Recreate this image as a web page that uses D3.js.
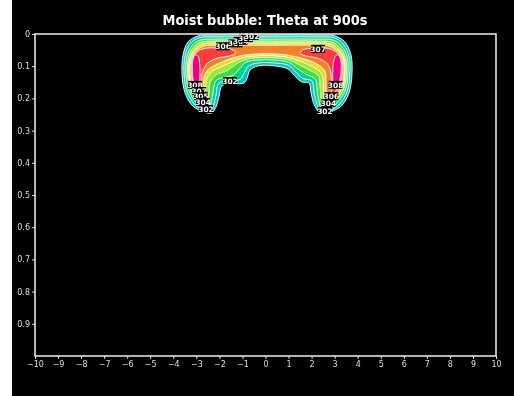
<!DOCTYPE html>
<html><head><meta charset="utf-8">
<script src="https://cdn.jsdelivr.net/npm/d3@7"></script>
<style>html,body{margin:0;padding:0;background:#fff;}svg{display:block;will-change:transform;}</style>
</head><body>
<script>
// ---- data ----
const title = "Moist bubble: Theta at 900s";
const xTicks = [-10,-9,-8,-7,-6,-5,-4,-3,-2,-1,0,1,2,3,4,5,6,7,8,9,10];
const yTicks = [0,0.1,0.2,0.3,0.4,0.5,0.6,0.7,0.8,0.9];
const levels = [301,302,303,304,305,306,307,308];
const colors = ["#00c8c8","#00d28c","#3cdc3c","#a0e632","#e6dc32","#f08228","#fa3c3c","#f00082"];
// contour regions (theta >= level), [x, z]
const c301 = [[[-2.54,0.245],[-3.15,0.224],[-3.49,0.183],[-3.62,0.127],[-3.58,0.065],[-3.36,0.025],[-2.93,0.006],[-2.19,0.003],[0,0.003],[2.28,0.003],[3.02,0.006],[3.45,0.025],[3.71,0.065],[3.75,0.127],[3.62,0.183],[3.28,0.224],[2.67,0.245],
 [2.36,0.245],[2.10,0.217],[1.97,0.180],[1.89,0.152],[1.58,0.149],[1.32,0.134],[0.98,0.109],[0.41,0.099],[-0.33,0.099],[-0.67,0.112],[-0.80,0.137],[-0.93,0.152],[-1.45,0.155],[-1.89,0.161],[-2.02,0.196],[-2.15,0.227],[-2.32,0.245]]];
const c302 = [[[-2.50,0.242],[-3.05,0.220],[-3.40,0.180],[-3.53,0.127],[-3.49,0.068],[-3.28,0.031],[-2.88,0.012],[-2.19,0.009],[0,0.009],[2.28,0.009],[2.98,0.012],[3.37,0.031],[3.62,0.068],[3.66,0.127],[3.53,0.180],[3.18,0.220],[2.62,0.242],
 [2.40,0.242],[2.22,0.215],[2.10,0.178],[2.02,0.146],[1.62,0.138],[1.36,0.122],[1.02,0.098],[0.41,0.090],[-0.33,0.090],[-0.75,0.100],[-0.95,0.125],[-1.10,0.141],[-1.55,0.145],[-2.02,0.152],[-2.15,0.190],[-2.25,0.222],[-2.36,0.242]]];
const c303 = [[[-2.52,0.236],[-3.00,0.214],[-3.32,0.176],[-3.45,0.127],[-3.41,0.071],[-3.20,0.037],[-2.83,0.019],[-2.19,0.016],[0,0.016],[2.28,0.016],[2.93,0.019],[3.30,0.037],[3.54,0.071],[3.58,0.127],[3.45,0.176],[3.10,0.214],[2.62,0.236],
 [2.44,0.236],[2.32,0.210],[2.24,0.175],[2.16,0.140],[1.75,0.125],[1.40,0.108],[1.00,0.088],[0.41,0.081],[-0.33,0.081],[-0.85,0.088],[-1.15,0.110],[-1.40,0.128],[-1.80,0.135],[-2.15,0.145],[-2.28,0.185],[-2.36,0.215],[-2.42,0.236]]];
const c304 = [[[-2.55,0.227],[-2.96,0.207],[-3.26,0.172],[-3.38,0.127],[-3.34,0.074],[-3.14,0.043],[-2.78,0.025],[-2.19,0.022],[0,0.022],[2.28,0.022],[2.88,0.025],[3.24,0.043],[3.47,0.074],[3.51,0.127],[3.38,0.172],[3.05,0.207],[2.62,0.227],
 [2.50,0.227],[2.42,0.205],[2.37,0.170],[2.30,0.130],[1.90,0.112],[1.45,0.095],[1.00,0.080],[0.41,0.074],[-0.33,0.074],[-0.90,0.080],[-1.30,0.095],[-1.70,0.115],[-2.10,0.125],[-2.40,0.150],[-2.45,0.185],[-2.48,0.210],[-2.50,0.227]]];
const c305 = [[[-2.60,0.217],[-2.93,0.198],[-3.21,0.167],[-3.32,0.127],[-3.28,0.077],[-3.08,0.049],[-2.73,0.031],[-2.19,0.028],[0,0.028],[2.28,0.028],[2.83,0.031],[3.18,0.049],[3.41,0.077],[3.45,0.127],[3.33,0.167],[3.02,0.198],[2.66,0.217],
 [2.58,0.217],[2.52,0.195],[2.50,0.165],[2.45,0.125],[2.05,0.102],[1.50,0.085],[1.00,0.073],[0.41,0.068],[-0.33,0.068],[-0.95,0.073],[-1.40,0.085],[-1.90,0.102],[-2.30,0.115],[-2.55,0.140],[-2.60,0.175],[-2.60,0.200]]];
const c306 = [[[-2.68,0.205],[-2.95,0.188],[-3.17,0.160],[-3.27,0.127],[-3.23,0.080],[-3.03,0.055],[-2.68,0.038],[-2.19,0.035],[0,0.035],[2.28,0.035],[2.78,0.038],[3.13,0.055],[3.36,0.080],[3.40,0.127],[3.30,0.160],[3.05,0.188],[2.74,0.205],
 [2.68,0.205],[2.64,0.185],[2.62,0.155],[2.58,0.115],[2.20,0.092],[1.60,0.076],[1.00,0.066],[0.41,0.062],[-0.33,0.062],[-0.95,0.066],[-1.50,0.076],[-2.05,0.092],[-2.45,0.108],[-2.65,0.130],[-2.68,0.165],[-2.70,0.190]]];
const c307 = [
 [[-2.85,0.186],[-3.05,0.170],[-3.18,0.140],[-3.22,0.110],[-3.18,0.080],[-3.00,0.058],[-2.65,0.045],[-2.00,0.044],[-1.40,0.050],[-1.30,0.060],[-1.55,0.068],[-2.10,0.075],[-2.50,0.090],[-2.72,0.115],[-2.78,0.150],[-2.80,0.175]],
 [[2.90,0.186],[3.12,0.170],[3.28,0.140],[3.35,0.110],[3.30,0.080],[3.10,0.058],[2.75,0.045],[2.10,0.044],[1.60,0.050],[1.50,0.060],[1.75,0.068],[2.25,0.075],[2.65,0.090],[2.82,0.115],[2.86,0.150],[2.87,0.175]]];
const c308 = [
 [[-3.00,0.168],[-3.12,0.150],[-3.17,0.115],[-3.15,0.080],[-3.05,0.065],[-2.92,0.070],[-2.85,0.100],[-2.85,0.140],[-2.90,0.165]],
 [[3.05,0.168],[3.20,0.150],[3.28,0.115],[3.26,0.080],[3.15,0.065],[3.02,0.070],[2.93,0.100],[2.92,0.140],[2.97,0.165]]];
const regions = [c301,c302,c303,c304,c305,c306,c307,c308];
// contour labels [x, z, text]
const labelX = [-1.54,-3.06,-2.88,-2.80,-2.71,-2.58,-1.84,-1.30,-1.08,-0.85,-0.60,2.28,3.04,2.86,2.73,2.58];
const labelZ = [0.146,0.158,0.177,0.193,0.211,0.233,0.038,0.029,0.021,0.013,0.006,0.046,0.158,0.193,0.214,0.239];
const labelT = ["302","308","307","305","304","302","306","305","304","303","302","307","308","306","304","302"];

// ---- chart ----
const W = 514, H = 396;
const svg = d3.select("body").append("svg").attr("width", W).attr("height", H);
svg.append("rect").attr("x", 12).attr("y", 0).attr("width", W - 12).attr("height", H).attr("fill", "#000");
const x = d3.scaleLinear().domain([-10, 10]).range([35, 496]);
const y = d3.scaleLinear().domain([0, 1]).range([34, 356]);

svg.append("defs").append("clipPath").attr("id", "clip")
  .append("rect").attr("x", 35).attr("y", 34).attr("width", 461).attr("height", 322);

const line = d3.line().x(d => x(d[0])).y(d => y(d[1])).curve(d3.curveCatmullRomClosed.alpha(0.5));
const g = svg.append("g").attr("clip-path", "url(#clip)");
regions.forEach((reg, i) => {
  reg.forEach(poly => {
    g.append("path").attr("d", line(poly)).attr("fill", colors[i]).attr("stroke", "none");
  });
});
regions.forEach((reg, i) => {
  reg.forEach(poly => {
    g.append("path").attr("d", line(poly)).attr("fill", "none").attr("stroke", "#fff").attr("stroke-width", 0.9);
  });
});
const lg = svg.append("g").attr("font-family", "DejaVu Sans, sans-serif").attr("font-size", 7.5).attr("font-weight", "bold");
labelT.forEach((t, i) => {
  const cx = x(labelX[i]), cy = y(labelZ[i]);
  lg.append("rect").attr("x", cx - 7).attr("y", cy - 4).attr("width", 14).attr("height", 8).attr("fill", "#000");
  lg.append("text").attr("x", cx).attr("y", cy + 3).attr("text-anchor", "middle").attr("fill", "#fff").text(t);
});

// axes
const xa = svg.append("g").attr("transform", "translate(0,356)")
  .call(d3.axisBottom(x).tickValues(xTicks).tickSize(3).tickPadding(2));
const ya = svg.append("g").attr("transform", "translate(35,0)")
  .call(d3.axisLeft(y).tickValues(yTicks).tickSize(3).tickPadding(2).tickFormat(d => d === 0 ? "0" : d.toFixed(1)));
[xa, ya].forEach(a => {
  a.select(".domain").remove();
  a.selectAll("line").attr("stroke", "#ddd");
  a.selectAll("text").attr("fill", "#ddd").attr("font-family", "DejaVu Sans, sans-serif").attr("font-size", 8);
});
// frame
svg.append("rect").attr("x", 35).attr("y", 34).attr("width", 461).attr("height", 322)
  .attr("fill", "none").attr("stroke", "#f0f0f0").attr("stroke-width", 1.5);
// title
svg.append("text").attr("x", 265).attr("y", 25).attr("text-anchor", "middle")
  .attr("fill", "#fff").attr("font-family", "DejaVu Sans, sans-serif").attr("font-size", 14).attr("font-weight", "bold")
  .attr("textLength", 205).attr("lengthAdjust", "spacingAndGlyphs").text(title);
</script>
</body></html>
